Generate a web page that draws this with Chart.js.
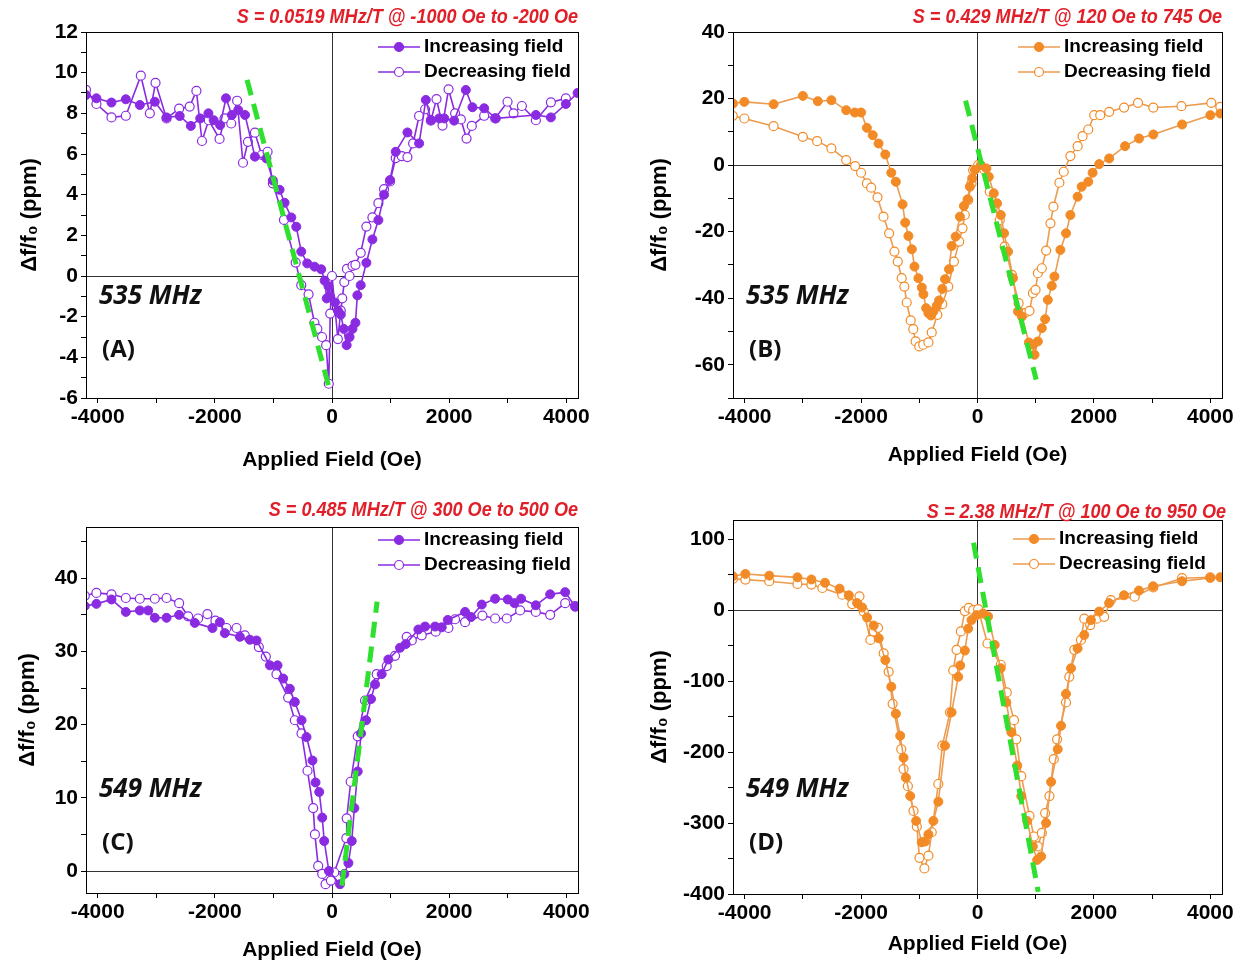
<!DOCTYPE html>
<html>
<head>
<meta charset="utf-8">
<script src="https://cdn.jsdelivr.net/npm/chart.js@4.4.0/dist/chart.umd.min.js"></script>
<style>
    body { margin: 0; background: #fff; }
    #wrap { position: relative; width: 1246px; height: 968px; }
    .panel { position: absolute; width: 623px; height: 484px; }
</style>
</head>
<body>
<div id="wrap">
    <div class="panel" style="left:0;top:0"><canvas id="cA"></canvas></div>
    <div class="panel" style="left:623px;top:0"><canvas id="cB"></canvas></div>
    <div class="panel" style="left:0;top:484px"><canvas id="cC"></canvas></div>
    <div class="panel" style="left:623px;top:484px"><canvas id="cD"></canvas></div>
</div>
<script>
// ---- data (field in Oe, shift in ppm) ----
// (A) 535 MHz
const fieldA_inc = [-4200,-4022,-3765,-3520,-3281,-3025,-2825,-2600,-2410,-2250,-2110,-2020,-1910,-1810,-1710,-1600,-1485,-1316,-1120,-1010,-895,-810,-695,-610,-525,-423,-298,-184,-126,-90,-60,-30,50,100,150,200,250,300,350,400,433,490,587,690,792,889,991,1088,1288,1487,1602,1688,1830,1917,2085,2285,2398,2598,2797,3481,3737,3993,4193];
const shiftA_inc = [8.9,8.74,8.53,8.69,8.41,8.57,7.8,7.87,7.38,7.75,8.0,7.66,7.42,8.74,7.92,8.16,7.92,5.87,5.78,4.7,4.24,3.6,2.88,2.42,1.2,0.62,0.46,0.33,-0.23,-1.1,-0.5,-1.0,-1.3,-1.7,-1.9,-2.6,-3.4,-3.0,-2.6,-2.3,-0.95,-0.45,0.65,1.8,2.75,4.0,4.72,6.11,7.06,6.52,8.66,7.67,7.75,7.75,7.64,9.15,8.3,8.25,7.75,7.92,7.8,8.46,9.0];
const fieldA_dec = [-4200,-4022,-3765,-3520,-3264,-3110,-3013,-2825,-2610,-2430,-2315,-2220,-2105,-1920,-1835,-1720,-1620,-1520,-1435,-1316,-1200,-1100,-1010,-820,-620,-525,-400,-300,-250,-170,-100,-55,-30,0,100,150,175,210,255,300,350,400,490,587,690,792,889,991,1088,1190,1288,1385,1487,1590,1688,1784,1887,1990,2102,2200,2297,2387,2598,2786,2997,3100,3242,3481,3737,3993];
const shiftA_dec = [9.15,8.46,7.8,7.88,9.85,8.0,9.5,7.75,8.23,8.33,9.1,6.64,7.66,6.74,7.75,7.5,8.62,5.57,6.6,7.05,5.95,6.11,4.56,2.76,0.66,-0.45,-0.9,-2.3,-2.6,-3.0,-3.4,-5.3,-1.85,0,-3.1,-1.7,-1.1,-0.3,0.35,0.0,0.5,0.55,1.14,2.43,2.88,3.58,4.27,4.65,5.8,5.9,5.85,6.52,7.87,8.2,7.64,8.7,7.4,9.18,8.0,7.7,6.76,7.38,7.88,7.75,8.57,8.0,8.36,7.66,8.54,8.74];
const fitA_field = [-1450, -50];
const fitA_shift = [9.65, -5.5];

// (B) 535 MHz
const fieldB_inc = [-4200,-4005,-3503,-3000,-2743,-2510,-2255,-2108,-2000,-1900,-1800,-1700,-1584,-1481,-1403,-1287,-1242,-1186,-1128,-1083,-1015,-957,-929,-883,-843,-798,-758,-701,-661,-604,-558,-490,-444,-376,-302,-234,-171,-131,-91,-45,57,154,194,280,337,400,456,525,610,695,763,883,952,980,1037,1105,1162,1208,1276,1322,1424,1521,1595,1720,1789,1903,1977,2091,2262,2535,2775,3020,3515,4000,4171];
const shiftB_inc = [18.5,19.0,18.3,20.8,19.2,19.5,16.5,15.8,15.8,11.2,9.0,6.5,3.2,-2.3,-5.0,-11.8,-17.3,-21.3,-25.3,-30.5,-34.0,-36.8,-38.8,-43.0,-44.5,-45.2,-44.0,-42.3,-40.7,-37.2,-34.3,-31.3,-24.3,-21.5,-15.5,-12.3,-10.3,-6.5,-4.0,-1.5,0,-1.0,-3.5,-8.5,-11.5,-15.0,-20.5,-26.0,-34.0,-44.0,-45.5,-53.3,-54.0,-57.0,-53.0,-49.0,-46.3,-40.5,-36.3,-33.5,-25.5,-20.5,-15.0,-9.5,-6.5,-5.0,-2.3,0.3,2.0,5.7,8.0,9.2,12.2,15.0,15.5];
const fieldB_dec = [-4204,-4005,-3503,-3000,-2755,-2510,-2255,-2102,-2000,-1900,-1826,-1718,-1615,-1518,-1427,-1370,-1302,-1256,-1216,-1148,-1103,-1063,-1000,-932,-843,-786,-690,-604,-502,-405,-314,-257,-217,-160,-103,-75,11,114,211,296,382,467,592,706,809,894,952,997,1037,1105,1179,1253,1304,1407,1481,1595,1720,1805,1903,2005,2108,2262,2518,2757,3020,3503,4017,4171];
const shiftB_dec = [14.8,14.0,11.7,8.5,7.2,5.0,1.5,-0.3,-2.3,-5.5,-6.8,-9.7,-15.5,-20.5,-26.0,-29.0,-34.0,-36.5,-41.3,-46.7,-49.3,-53.0,-54.5,-54.0,-53.3,-50.3,-45.0,-41.8,-36.5,-29.0,-23.0,-19.0,-15.0,-10.5,-5.5,-1.5,0,-1.3,-8.0,-12.0,-16.5,-24.5,-33.0,-41.5,-44.5,-43.8,-38.5,-37.5,-32.5,-31.0,-25.7,-17.5,-12.5,-5.3,-2.0,2.7,5.7,8.7,10.7,15.0,15.0,16.0,17.3,18.7,17.3,17.7,18.7,17.5];
const fitB_field = [-205, 1008];
const fitB_shift = [19.4, -64.5];

// (C) 549 MHz
const fieldC_inc = [-4221,-4022,-3765,-3520,-3281,-3139,-3025,-2825,-2610,-2343,-2041,-1915,-1830,-1573,-1402,-1288,-1060,-930,-834,-720,-635,-520,-435,-333,-281,-218,-167,-133,-53,137,211,280,337,382,439,496,581,666,735,848,962,1162,1259,1475,1589,1760,1874,1976,2272,2375,2557,2785,3001,3115,3229,3480,3725,3981,4153];
const shiftC_inc = [36.2,36.5,37.1,35.4,35.6,35.6,34.6,34.6,35.0,33.9,33.2,34.0,32.5,32.0,31.6,31.5,28.1,28.1,26.3,24.9,23.1,20.6,18.3,15.1,12.1,10.8,7.3,4.1,0.0,-1.8,-0.4,1.1,4.1,8.6,13.6,18.8,20.6,23.5,25.5,26.9,28.9,30.5,31.0,33.0,33.4,33.4,33.3,34.3,35.4,34.7,36.4,37.2,37.1,36.6,37.2,36.3,37.8,38.1,36.1];
const fieldC_dec = [-4221,-4022,-3765,-3520,-3281,-3025,-2825,-2610,-2456,-2286,-2127,-1990,-1802,-1630,-1488,-1249,-1130,-948,-749,-635,-520,-418,-321,-292,-236,-167,-110,-19,38,245,251,319,439,564,763,934,1076,1276,1362,1532,1771,1987,2101,2272,2568,2785,2984,3212,3480,3725,3981,4153];
const shiftC_dec = [37.6,38.0,37.8,37.3,37.2,37.2,37.3,36.6,34.8,34.5,35.1,34.2,33.2,33.2,32.2,30.6,29.3,26.9,23.7,20.6,18.8,13.7,8.6,5.0,0.7,-0.4,-1.8,-1.3,-0.2,4.5,7.2,12.2,18.4,23.3,26.9,28.0,29.4,32.0,31.5,32.2,32.7,33.2,34.4,34.0,34.9,34.5,34.5,35.6,35.4,35.0,36.6,36.2];
const fitC_field = [170, 770];
const fitC_shift = [-2, 36.8];

// (D) 549 MHz
const fieldD_inc = [-4204,-3987,-3577,-3093,-2853,-2620,-2369,-2210,-2068,-1982,-1897,-1783,-1697,-1583,-1481,-1402,-1328,-1270,-1231,-1156,-1054,-958,-901,-843,-758,-673,-559,-445,-331,-297,-217,-160,-103,-17,97,182,296,399,496,581,683,752,854,951,1025,1093,1179,1264,1378,1435,1520,1606,1720,1834,1948,2090,2261,2517,2773,3018,3513,3998,4170];
const shiftD_inc = [47.8,51,48.6,46.2,43.2,38.5,30.3,20.9,9.9,3.8,-10.4,-21.7,-39.7,-70.4,-108,-146,-177,-208,-236,-262,-297,-327,-326,-316,-297,-270,-191,-144,-94,-78,-57,-26,-14,-7,-4.7,-9,-49,-82,-130,-172,-219,-262,-297,-333,-352,-347,-300,-242,-196,-163,-118,-82,-54,-35,-14,-2,9.9,20.9,27.5,33.6,40.7,45.4,46.3];
const fieldD_dec = [-4204,-3987,-3577,-3093,-2853,-2665,-2324,-2153,-2028,-1954,-1840,-1783,-1709,-1612,-1526,-1458,-1310,-1270,-1196,-1099,-1042,-997,-912,-843,-786,-673,-604,-473,-416,-360,-286,-217,-149,-75,11,171,399,502,627,666,752,894,968,1037,1105,1162,1236,1310,1367,1520,1577,1663,1777,1834,1936,2050,2176,2290,2700,3018,3513,3998];
const shiftD_dec = [44,43,40.7,36.9,36,31.2,21.7,8.5,19.4,-2,-42,-30,-25,-61,-87,-132,-196,-224,-248,-283,-305,-349,-364,-346,-313,-245,-191,-144,-85,-56,-30,-1.4,3.3,0,1.4,-47,-77,-116,-155,-182,-234,-290,-319,-333,-314,-286,-262,-210,-182,-130,-94,-56,-42,-12,-21,-12,-9.5,14,19,32,45,46.3];
const fitD_field = [-68, 1043];
const fitD_shift = [95, -397];

// axis ticks (minor step + labelled values)
const xLabels = [-4000, -2000, 0, 2000, 4000];
const yLabelsA = [-6, -4, -2, 0, 2, 4, 6, 8, 10, 12];
const yLabelsB = [-60, -40, -20, 0, 20, 40];
const yLabelsC = [0, 10, 20, 30, 40];
const yLabelsD = [-400, -300, -200, -100, 0, 100];

// ---- styling ----
const purple = '#8a2be2';
const orange = '#f28a26';
const orange_line = '#ec9c50';
const green = '#2fe02f';
const red_text = '#e01f28';
const sans = "'Liberation Sans', Arial, sans-serif";
const tick_font = { family: sans, size: 21, weight: 'bold' };
const axis_font = { family: sans, size: 21, weight: 'bold' };

function pts(xs, ys) {
    return xs.map((x, i) => ({ x: x, y: ys[i] }));
}
function steps(min, max, step) {
    const out = [];
    for (let v = min; v <= max + 1e-9; v += step) out.push({ value: v });
    return out;
}
function zero_line(ctx) {
    return ctx.tick && ctx.tick.value === 0 ? '#333' : 'rgba(0,0,0,0)';
}

// frame, title, legend and in-plot labels
const decorations = {
    id: 'decorations',
    afterDraw(chart, args, o) {
        const ctx = chart.ctx;
        const a = chart.chartArea;
        ctx.save();
        ctx.strokeStyle = '#000';
        ctx.lineWidth = 1;
        ctx.strokeRect(a.left + 0.5, a.top + 0.5, a.right - a.left, a.bottom - a.top);

        // red sensitivity title, slightly condensed like the original
        ctx.save();
        ctx.translate(a.right + o.titleDx, o.titleY);
        ctx.scale(0.86, 1);
        ctx.fillStyle = red_text;
        ctx.font = 'italic bold 21px ' + sans;
        ctx.textAlign = 'right';
        ctx.textBaseline = 'middle';
        ctx.fillText(o.title, 0, 0);
        ctx.restore();

        // legend
        ctx.textBaseline = 'middle';
        const rows = [['Increasing field', true], ['Decreasing field', false]];
        rows.forEach((r, i) => {
            const y = a.top + o.legY + i * 25;
            const x0 = a.right + o.legX;
            ctx.strokeStyle = o.lineColor;
            ctx.lineWidth = 1.6;
            ctx.beginPath();
            ctx.moveTo(x0, y);
            ctx.lineTo(x0 + 42, y);
            ctx.stroke();
            ctx.beginPath();
            ctx.arc(x0 + 21, y, 4.5, 0, Math.PI * 2);
            ctx.fillStyle = r[1] ? o.color : '#fff';
            ctx.fill();
            ctx.lineWidth = 1.2;
            ctx.strokeStyle = o.color;
            ctx.stroke();
            ctx.fillStyle = '#000';
            ctx.font = 'bold 19px ' + sans;
            ctx.textAlign = 'left';
            ctx.fillText(r[0], x0 + 46, y);
        });

        ctx.fillStyle = '#111';
        ctx.textAlign = 'left';
        ctx.font = "italic bold 26px 'Open Sans', sans-serif";
        ctx.fillText(o.freq, a.left + 13, a.top + o.freqY);
        ctx.font = "bold 24px 'Open Sans', sans-serif";
        ctx.fillText(o.tag, a.left + 16, a.top + o.freqY + 53);
        ctx.restore();
    }
};

function create_panel(id, p) {
    const data = {
        datasets: [
            { data: pts(p.fit[0], p.fit[1]), borderColor: green, borderWidth: 5, borderDash: [16, 9], pointRadius: 0, showLine: true, order: 0 },
            { data: pts(p.inc[0], p.inc[1]), borderColor: p.lineColor, borderWidth: 1.6, showLine: true,
              pointRadius: 4.5, pointBackgroundColor: p.color, pointBorderColor: p.color, pointBorderWidth: 1, order: 1 },
            { data: pts(p.dec[0], p.dec[1]), borderColor: p.lineColor, borderWidth: 1.6, showLine: true,
              pointRadius: 4.5, pointBackgroundColor: '#fff', pointBorderColor: p.color, pointBorderWidth: 1.2, order: 2 }
        ]
    };
    const options = {
        animation: false,
        responsive: true,
        maintainAspectRatio: false,
        layout: { padding: p.pad },
        plugins: {
            legend: { display: false },
            tooltip: { enabled: false },
            decorations: p.deco
        },
        scales: {
            x: {
                type: 'linear', min: -4200, max: 4200,
                afterBuildTicks: s => { s.ticks = steps(-4000, 4000, 1000); },
                afterFit: s => { s.height = p.xHeight; },
                grid: { color: zero_line, tickColor: '#000', tickLength: 5 },
                border: { color: '#000', width: 1 },
                ticks: { font: tick_font, color: '#000', padding: 2, maxRotation: 0, autoSkip: false,
                         callback: v => xLabels.includes(v) ? String(v) : '' },
                title: { display: true, text: 'Applied Field (Oe)', font: axis_font, color: '#000', padding: 4 }
            },
            y: {
                type: 'linear', min: p.yMin, max: p.yMax,
                afterBuildTicks: s => { s.ticks = steps(p.yTickMin, p.yTickMax, p.yStep); },
                afterFit: s => { s.width = p.yWidth; },
                grid: { color: zero_line, tickColor: '#000', tickLength: 5 },
                border: { color: '#000', width: 1 },
                ticks: { font: tick_font, color: '#000', padding: 3, autoSkip: false,
                         callback: v => p.yLabels.includes(v) ? String(v) : '' },
                title: { display: true, text: 'Δf/f₀ (ppm)', font: { family: sans, size: 22, weight: 'bold' }, color: '#000', padding: 4 }
            }
        }
    };
    return new Chart(document.getElementById(id), { type: 'scatter', data: data, options: options, plugins: [decorations] });
}

create_panel('cA', {
    inc: [fieldA_inc, shiftA_inc], dec: [fieldA_dec, shiftA_dec], fit: [fitA_field, fitA_shift],
    color: purple, lineColor: purple,
    pad: { left: 13, right: 45, top: 32, bottom: 7 }, xHeight: 79, yWidth: 73,
    yMin: -6, yMax: 12, yTickMin: -6, yTickMax: 12, yStep: 1, yLabels: yLabelsA,
    deco: { title: 'S = 0.0519 MHz/T @ -1000 Oe to -200 Oe', titleDx: 0, titleY: 17, legX: -200, legY: 15,
            color: purple, lineColor: purple, freq: '535 MHz', tag: '(A)', freqY: 265 }
});
create_panel('cB', {
    inc: [fieldB_inc, shiftB_inc], dec: [fieldB_dec, shiftB_dec], fit: [fitB_field, fitB_shift],
    color: orange, lineColor: orange_line,
    pad: { left: 20, right: 24, top: 32, bottom: 12 }, xHeight: 74, yWidth: 90,
    yMin: -70, yMax: 40, yTickMin: -70, yTickMax: 40, yStep: 10, yLabels: yLabelsB,
    deco: { title: 'S = 0.429 MHz/T @ 120 Oe to 745 Oe', titleDx: 0, titleY: 17, legX: -204, legY: 15,
            color: orange, lineColor: orange_line, freq: '535 MHz', tag: '(B)', freqY: 265 }
});
create_panel('cC', {
    inc: [fieldC_inc, shiftC_inc], dec: [fieldC_dec, shiftC_dec], fit: [fitC_field, fitC_shift],
    color: purple, lineColor: purple,
    pad: { left: 11, right: 45, top: 43, bottom: 1 }, xHeight: 74, yWidth: 75,
    yMin: -3, yMax: 47, yTickMin: 0, yTickMax: 45, yStep: 5, yLabels: yLabelsC,
    deco: { title: 'S = 0.485 MHz/T @ 300 Oe to 500 Oe', titleDx: 0, titleY: 26, legX: -200, legY: 13,
            color: purple, lineColor: purple, freq: '549 MHz', tag: '(C)', freqY: 263 }
});
create_panel('cD', {
    inc: [fieldD_inc, shiftD_inc], dec: [fieldD_dec, shiftD_dec], fit: [fitD_field, fitD_shift],
    color: orange, lineColor: orange_line,
    pad: { left: 20, right: 24, top: 36, bottom: 7 }, xHeight: 67, yWidth: 90,
    yMin: -400, yMax: 127, yTickMin: -400, yTickMax: 100, yStep: 50, yLabels: yLabelsD,
    deco: { title: 'S = 2.38 MHz/T @ 100 Oe to 950 Oe', titleDx: 4, titleY: 28, legX: -209, legY: 19,
            color: orange, lineColor: orange_line, freq: '549 MHz', tag: '(D)', freqY: 270 }
});
</script>
</body>
</html>
